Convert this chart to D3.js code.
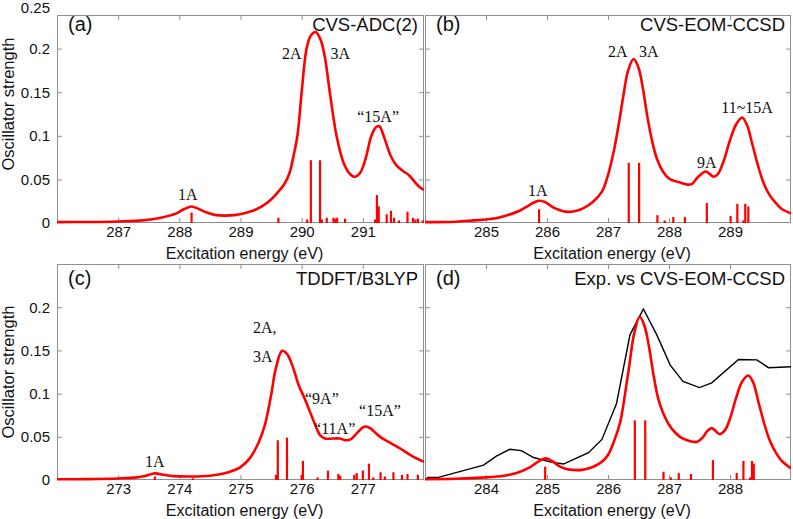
<!DOCTYPE html>
<html>
<head>
<meta charset="utf-8">
<script src="https://cdn.jsdelivr.net/npm/d3@7"></script>
<style>
  html, body { margin: 0; padding: 0; background: #fff; }
  svg { display: block; }
</style>
</head>
<body>
<svg id="chart" width="793" height="519"></svg>
<script>
// ---------------- DATA ----------------
// (a) CVS-ADC(2)
const curveA = [[286.0,0.001],[286.5,0.0012],[287.0,0.0018],[287.4,0.003],[287.7,0.006],[287.95,0.011],[288.08,0.016],[288.2,0.019],[288.32,0.016],[288.45,0.012],[288.6,0.009],[288.75,0.0085],[288.9,0.009],[289.05,0.011],[289.2,0.014],[289.35,0.019],[289.5,0.027],[289.62,0.036],[289.72,0.045],[289.8,0.057],[289.87,0.078],[289.93,0.1],[290.0,0.15],[290.08,0.2],[290.15,0.215],[290.23,0.219],[290.31,0.21],[290.38,0.19],[290.46,0.15],[290.57,0.1],[290.68,0.07],[290.78,0.057],[290.87,0.053],[290.96,0.058],[291.05,0.075],[291.14,0.1],[291.22,0.11],[291.27,0.111],[291.35,0.098],[291.45,0.078],[291.55,0.066],[291.65,0.06],[291.75,0.055],[291.85,0.047],[291.93,0.041],[292.0,0.038]];
const sticksA = [[288.2,0.012],[289.62,0.006],[290.09,0.004],[290.15,0.072],[290.30,0.072],[290.33,0.004],[290.41,0.006],[290.52,0.006],[290.55,0.005],[290.58,0.006],[290.71,0.005],[291.2,0.004],[291.23,0.032],[291.26,0.019],[291.39,0.010],[291.46,0.014],[291.51,0.006],[291.59,0.003],[291.73,0.013],[291.82,0.006],[291.86,0.004],[291.9,0.005],[291.98,0.003]];
const notesA = [["1A",288.14,0.033,"middle"],["2A",289.84,0.194,"middle"],["3A",290.63,0.194,"middle"],["\u201c15A\u201d",291.25,0.122,"middle"]];

// (b) CVS-EOM-CCSD
const curveB = [[284.0,0.001],[284.5,0.0015],[284.8,0.003],[285.0,0.004],[285.2,0.006],[285.4,0.01],[285.55,0.014],[285.7,0.02],[285.8,0.024],[285.88,0.0256],[285.97,0.024],[286.1,0.018],[286.2,0.015],[286.3,0.013],[286.45,0.0135],[286.6,0.017],[286.75,0.024],[286.9,0.036],[287.0,0.055],[287.1,0.084],[287.18,0.115],[287.25,0.145],[287.33,0.175],[287.42,0.188],[287.5,0.178],[287.57,0.155],[287.65,0.12],[287.72,0.095],[287.8,0.074],[287.9,0.059],[288.0,0.051],[288.1,0.048],[288.2,0.046],[288.3,0.044],[288.38,0.045],[288.48,0.053],[288.6,0.059],[288.67,0.056],[288.73,0.053],[288.8,0.056],[288.9,0.072],[289.0,0.095],[289.1,0.113],[289.2,0.121],[289.28,0.112],[289.36,0.092],[289.45,0.068],[289.55,0.046],[289.65,0.032],[289.75,0.023],[289.85,0.016],[290.0,0.011]];
const sticksB = [[285.87,0.0157],[287.34,0.069],[287.51,0.069],[287.81,0.009],[287.93,0.003],[288.07,0.007],[288.26,0.007],[288.62,0.023],[289.01,0.008],[289.12,0.022],[289.22,0.003],[289.25,0.022],[289.30,0.019]];
const notesB = [["1A",285.85,0.037,"middle"],["2A",287.16,0.197,"middle"],["3A",287.67,0.197,"middle"],["9A",288.62,0.070,"middle"],["11~15A",289.28,0.132,"middle"]];

// (c) TDDFT/B3LYP
const curveC = [[272.0,0.0008],[272.5,0.001],[273.0,0.0018],[273.3,0.003],[273.45,0.005],[273.6,0.0077],[273.75,0.006],[273.9,0.0045],[274.2,0.004],[274.5,0.005],[274.8,0.009],[275.0,0.015],[275.15,0.025],[275.3,0.044],[275.4,0.064],[275.5,0.098],[275.58,0.13],[275.68,0.1495],[275.76,0.146],[275.85,0.132],[275.95,0.11],[276.05,0.094],[276.13,0.08],[276.22,0.064],[276.3,0.052],[276.38,0.048],[276.5,0.048],[276.62,0.048],[276.72,0.046],[276.8,0.047],[276.9,0.054],[277.0,0.061],[277.05,0.062],[277.12,0.06],[277.2,0.055],[277.3,0.049],[277.45,0.043],[277.6,0.037],[277.8,0.028],[278.0,0.021]];
const sticksC = [[273.6,0.004],[274.22,0.002],[275.58,0.006],[275.61,0.046],[275.76,0.049],[276.0,0.006],[276.02,0.022],[276.26,0.003],[276.43,0.011],[276.6,0.007],[276.63,0.005],[276.86,0.006],[276.9,0.008],[277.0,0.011],[277.10,0.019],[277.17,0.003],[277.29,0.009],[277.36,0.004],[277.5,0.009],[277.64,0.006],[277.73,0.007],[277.9,0.006]];
const notesC = [["1A",273.60,0.021,"middle"],["2A,",275.205,0.177,"start"],["3A",275.205,0.143,"start"],["\u201c9A\u201d",276.33,0.095,"middle"],["\u201c11A\u201d",276.54,0.060,"middle"],["\u201c15A\u201d",277.28,0.081,"middle"]];

// (d) Exp. vs CVS-EOM-CCSD
const curveD = [[283.0,0.001],[283.5,0.0015],[284.0,0.003],[284.3,0.005],[284.5,0.008],[284.7,0.014],[284.85,0.021],[284.98,0.025],[285.08,0.022],[285.2,0.016],[285.3,0.013],[285.45,0.0115],[285.6,0.012],[285.75,0.015],[285.9,0.021],[286.0,0.029],[286.1,0.045],[286.2,0.067],[286.28,0.1],[286.35,0.133],[286.43,0.17],[286.52,0.189],[286.6,0.178],[286.67,0.155],[286.75,0.12],[286.82,0.095],[286.9,0.078],[287.0,0.064],[287.1,0.055],[287.2,0.049],[287.3,0.046],[287.45,0.044],[287.55,0.049],[287.62,0.056],[287.7,0.060],[287.76,0.057],[287.83,0.053],[287.92,0.058],[288.0,0.071],[288.1,0.095],[288.2,0.114],[288.3,0.121],[288.38,0.113],[288.46,0.092],[288.55,0.068],[288.65,0.046],[288.75,0.032],[288.85,0.022],[289.0,0.0135]];
const expD = [[283.03,0.003],[283.22,0.003],[283.96,0.0173],[284.17,0.0277],[284.39,0.0355],[284.58,0.034],[284.78,0.026],[285.05,0.021],[285.27,0.0185],[285.68,0.0316],[285.90,0.047],[286.14,0.0886],[286.36,0.168],[286.58,0.198],[286.80,0.168],[287.02,0.133],[287.23,0.114],[287.50,0.107],[287.70,0.1125],[288.14,0.1395],[288.44,0.139],[288.63,0.130],[289.0,0.131]];
const sticksD = [[284.97,0.0154],[286.44,0.069],[286.61,0.069],[286.91,0.0096],[287.03,0.003],[287.16,0.008],[287.36,0.007],[287.72,0.023],[288.11,0.008],[288.22,0.022],[288.33,0.003],[288.36,0.022],[288.39,0.019]];
const notesD = [];

const xTicksA = [287,288,289,290,291];
const xTicksB = [285,286,287,288,289];
const xTicksC = [273,274,275,276,277];
const xTicksD = [284,285,286,287,288];
const yTicksA = [0,0.05,0.1,0.15,0.2,0.25];
const yTicksC = [0,0.05,0.1,0.15,0.2];
const titles = ["CVS-ADC(2)","CVS-EOM-CCSD","TDDFT/B3LYP","Exp. vs CVS-EOM-CCSD"];
const tags = ["(a)","(b)","(c)","(d)"];

// ---------------- LAYOUT ----------------
const svg = d3.select("#chart");
svg.append("rect").attr("width",793).attr("height",519).attr("fill","#fff");
const SANS = "'Liberation Sans', Arial, sans-serif";
const SERIF = "'Liberation Serif', 'Times New Roman', serif";
const AXC = "#8f8f8f";

const panels = [
  {id:"a", l:57,  r:424, t:15,  b:223, y25:5,   tb:16, xd:[286,292], xt:xTicksA, yt:yTicksA, yl:true,  curve:curveA, sticks:sticksA, notes:notesA, exp:null, title:titles[0], tag:tags[0]},
  {id:"b", l:425, r:791, t:15,  b:223, y25:5,   tb:16, xd:[284,290], xt:xTicksB, yt:yTicksA, yl:false, curve:curveB, sticks:sticksB, notes:notesB, exp:null, title:titles[1], tag:tags[1]},
  {id:"c", l:57,  r:424, t:264, b:480, y25:264, tb:21, xd:[272,278], xt:xTicksC, yt:yTicksC, yl:true,  curve:curveC, sticks:sticksC, notes:notesC, exp:null, title:titles[2], tag:tags[2]},
  {id:"d", l:425, r:791, t:264, b:480, y25:264, tb:21, xd:[283,289], xt:xTicksD, yt:yTicksC, yl:false, curve:curveD, sticks:sticksD, notes:notesD, exp:expD, title:titles[3], tag:tags[3]}
];

const defs = svg.append("defs");

panels.forEach(p => {
  const x = d3.scaleLinear().domain(p.xd).range([p.l, p.r]);
  const y = d3.scaleLinear().domain([0,0.25]).range([p.b, p.y25]);
  const g = svg.append("g");

  defs.append("clipPath").attr("id","clip-"+p.id)
    .append("rect").attr("x",p.l).attr("y",p.t).attr("width",p.r-p.l).attr("height",p.b-p.t+2);

  // axes (inward ticks on all four sides)
  const styleAxis = sel => {
    sel.select(".domain").remove();
    sel.selectAll(".tick line").attr("stroke",AXC);
    sel.selectAll(".tick text").attr("fill","#111").attr("font-family",SANS).attr("font-size",15);
  };
  g.append("g").attr("transform",`translate(0,${p.b})`)
    .call(d3.axisBottom(x).tickValues(p.xt).tickSizeInner(-5).tickSizeOuter(0).tickPadding(3).tickFormat(d3.format("d")))
    .call(styleAxis);
  g.append("g").attr("transform",`translate(0,${p.t})`)
    .call(d3.axisTop(x).tickValues(p.xt).tickSizeInner(-5).tickSizeOuter(0).tickFormat(""))
    .call(styleAxis);
  const la = g.append("g").attr("transform",`translate(${p.l},0)`)
    .call(d3.axisLeft(y).tickValues(p.yt).tickSizeInner(-5).tickSizeOuter(0).tickPadding(7)
      .tickFormat(p.yl ? (d => d===0 ? "0" : String(+d.toFixed(2))) : ""))
    .call(styleAxis);
  la.selectAll(".tick line").filter(d => y(d) < p.t - 0.5 || d === 0).remove();
  la.selectAll(".tick text").filter(d => y(d) < 8).attr("dy","0.5em");
  const ra = g.append("g").attr("transform",`translate(${p.r},0)`)
    .call(d3.axisRight(y).tickValues(p.yt).tickSizeInner(-5).tickSizeOuter(0).tickFormat(""))
    .call(styleAxis);
  ra.selectAll(".tick line").filter(d => y(d) < p.t - 0.5 || d === 0).remove();

  // box
  g.append("rect").attr("x",p.l+0.5).attr("y",p.t+0.5).attr("width",p.r-p.l-1).attr("height",p.b-p.t-1)
    .attr("fill","none").attr("stroke",AXC).attr("stroke-width",1);

  const plot = g.append("g").attr("clip-path",`url(#clip-${p.id})`);

  // experimental line
  if (p.exp) {
    plot.append("path").datum(p.exp)
      .attr("d", d3.line().x(d=>x(d[0])).y(d=>y(d[1])).curve(d3.curveLinear))
      .attr("fill","none").attr("stroke","#000").attr("stroke-width",1.4);
  }
  // sticks
  plot.selectAll("line.stick").data(p.sticks).enter().append("line")
    .attr("x1",d=>x(d[0])).attr("x2",d=>x(d[0]))
    .attr("y1",y(0)).attr("y2",d=>y(d[1]))
    .attr("stroke","#ff0000").attr("stroke-width",2.2);
  // broadened curve
  plot.append("path").datum(p.curve)
    .attr("d", d3.line().x(d=>x(d[0])).y(d=>y(d[1])).curve(d3.curveCatmullRom.alpha(0.5)))
    .attr("fill","none").attr("stroke","#ff0000").attr("stroke-width",2.6).attr("stroke-linejoin","round");

  // annotations
  g.selectAll("text.note").data(p.notes).enter().append("text")
    .attr("x",d=>x(d[1])).attr("y",d=>y(d[2])).attr("dy","0.35em")
    .attr("text-anchor",d=>d[3])
    .attr("font-family",SERIF).attr("font-size",16).attr("fill","#111")
    .text(d=>d[0]);

  // panel tag & title
  g.append("text").attr("x",p.l+11).attr("y",p.t+p.tb).attr("font-family",SANS).attr("font-size",20).attr("fill","#111").text(p.tag);
  g.append("text").attr("x",p.r-6).attr("y",p.t+p.tb).attr("text-anchor","end").attr("font-family",SANS).attr("font-size",18.5).attr("fill","#111").text(p.title);

  // x label
  g.append("text").attr("x",(p.l+p.r)/2+4).attr("y",p.b+36).attr("text-anchor","middle")
    .attr("font-family",SANS).attr("font-size",16).attr("fill","#111").text("Excitation energy (eV)");
  // y label
  if (p.yl) {
    const cy = p.id === "a" ? 104 : (p.t+p.b)/2;
    g.append("text").attr("transform",`translate(14,${cy}) rotate(-90)`).attr("text-anchor","middle")
      .attr("font-family",SANS).attr("font-size",16.5).attr("fill","#111").text("Oscillator strength");
  }
});
</script>
</body>
</html>
